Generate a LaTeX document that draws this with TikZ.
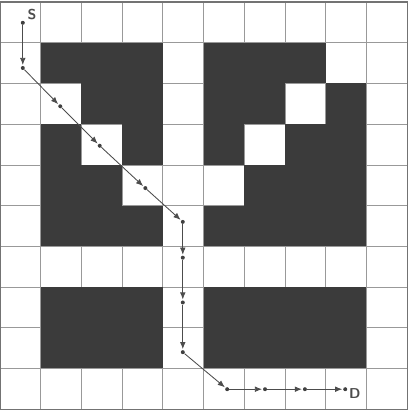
\documentclass[tikz,border=0pt]{standalone}
\usetikzlibrary{arrows.meta}
\tikzset{
  cell/.style={fill=black!77},
  dot/.style={circle,fill=black!75,inner sep=0pt,minimum size=2.8pt},
  hop/.style={draw=black!70,line width=0.6pt,-{Latex[length=5pt,width=4pt]},shorten >=0.5pt},
  lbl/.style={font=\sffamily\bfseries,text=black!70,inner sep=1pt}
}
\begin{document}
\begin{tikzpicture}
\useasboundingbox (0,0.05) rectangle (10,-10.07);
% grid and frame
\draw[black!40,line width=0.5pt] (0,-10) grid (10,0);
% blocked cells, row by row
\foreach \r/\cols in {1/{1,2,3,5,6,7},2/{2,3,5,6,8},3/{1,3,5,7,8},4/{1,2,6,7,8},
                      5/{1,2,3,5,6,7,8},7/{1,2,3,5,6,7,8},8/{1,2,3,5,6,7,8}}
  \foreach \c in \cols
    \fill[cell] (\c,-\r) rectangle ++(1,-1);
\draw[black!55,line width=0.8pt] (0,0) rectangle (10,-10);
% route from S to D
\node[dot] (p0) at (0.56,-0.51) {};
\node[dot] (p1) at (0.56,-1.62) {};
\node[dot] (p2) at (1.48,-2.56) {};
\node[dot] (p3) at (2.45,-3.53) {};
\node[dot] (p4) at (3.57,-4.57) {};
\node[dot] (p5) at (4.49,-5.40) {};
\node[dot] (p6) at (4.49,-6.28) {};
\node[dot] (p7) at (4.49,-7.38) {};
\node[dot] (p8) at (4.49,-8.60) {};
\node[dot] (p9) at (5.58,-9.51) {};
\node[dot] (p10) at (6.51,-9.51) {};
\node[dot] (p11) at (7.49,-9.51) {};
\node[dot] (p12) at (8.48,-9.51) {};
\foreach \a/\b in {p0/p1,p1/p2,p2/p3,p3/p4,p4/p5,p5/p6,p6/p7,p7/p8,p8/p9,p9/p10,p10/p11,p11/p12}
  \draw[hop] (\a) -- (\b);
\node[lbl,anchor=south west] (s) at ([xshift=1pt]p0.north east) {S};
\node[lbl,anchor=south west] (d) at ([yshift=-8pt]p12.east) {D};
\end{tikzpicture}
\end{document}
